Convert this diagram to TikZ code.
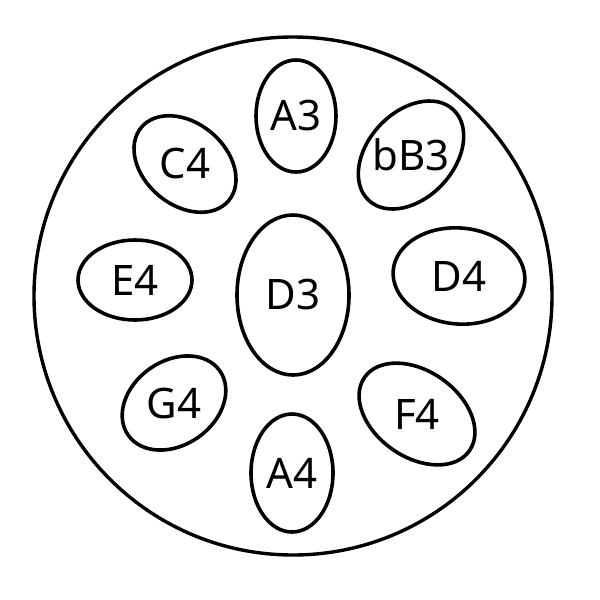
\documentclass[tikz,border=0pt]{standalone}
\usepackage{fontspec}
\setmainfont{Noto Sans}
\begin{document}
\begin{tikzpicture}[x=0.5pt,y=-0.5pt,line width=1.7pt,
    every node/.style={inner sep=0pt,font=\fontsize{21}{21}\selectfont}]
      \useasboundingbox (0,0) rectangle (600,600);
      \node (drum) at (293,296) {};
      \draw (drum) circle [radius=259];
      \draw
        (296,116) node (A3){A3}
        (185,164) node (C4){C4}
        (411,155) node (bB3){bB3}
        (135,280) node (E4){E4}
        (293,295) node (D3){D3}
        (459,276) node (D4){D4}
        (174,403) node (G4){G4}
        (417,414) node (F4){F4}
        (292,473) node (A4){A4};
      \begin{scope}[line width=1.8pt]
        \draw (A3) ellipse [x radius=40, y radius=56];
        \draw[rotate around={-40:(C4)}] (C4) ellipse [x radius=57, y radius=41];
        \draw[rotate around={47:(bB3)}] (bB3) ellipse [x radius=62, y radius=43];
        \draw (E4) ellipse [x radius=57, y radius=40];
        \draw (D3) ellipse [x radius=56, y radius=80];
        \draw[rotate around={-5:(D4)}] (D4) ellipse [x radius=66, y radius=48];
        \draw[rotate around={35:(G4)}] (G4) ellipse [x radius=56, y radius=42];
        \draw[rotate around={-35:(F4)}] (F4) ellipse [x radius=64, y radius=43];
        \draw (A4) ellipse [x radius=41, y radius=59];
      \end{scope}
    \end{tikzpicture}
\end{document}
